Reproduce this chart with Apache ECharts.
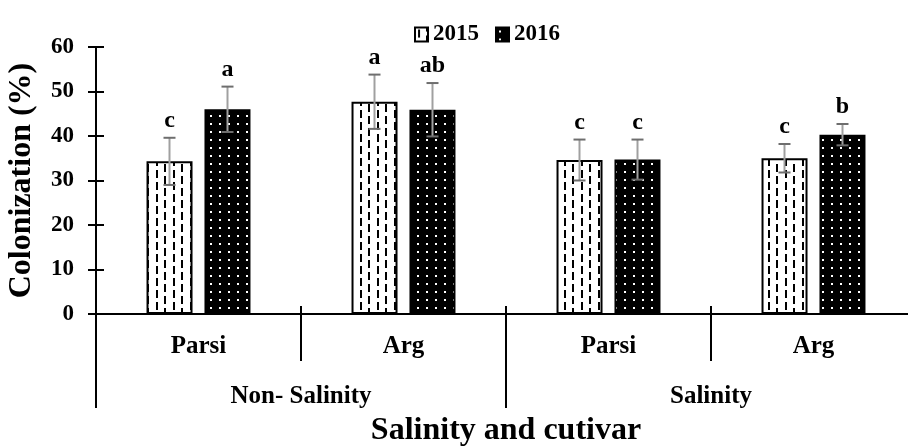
<!DOCTYPE html>
<html>
<head>
<meta charset="utf-8">
<script src="https://cdn.jsdelivr.net/npm/echarts@6/dist/echarts.min.js"></script>
<style>
  html, body { margin: 0; padding: 0; background: #fff; }
  #chart { width: 908px; height: 448px; }
</style>
</head>
<body>
<div id="chart"></div>
<script>
// categories
const cultivars = ['Parsi', 'Arg', 'Parsi', 'Arg'];
const salinity = ['Non- Salinity', 'Salinity'];
const years = ['2015', '2016'];
const yTicks = [0, 10, 20, 30, 40, 50, 60];

// colonization (%) means, error bars and letters
const col2015 = [34.3, 47.7, 34.6, 35.0];
const col2016 = [46.0, 45.9, 34.7, 40.3];
const err2015 = [5.3, 6.1, 4.6, 3.2];
const err2016 = [5.1, 6.0, 4.5, 2.4];
const let2015 = ['c', 'a', 'c', 'c'];
const let2016 = ['a', 'ab', 'c', 'b'];

const FONT = 'Liberation Serif';

// vertical dashes on white
function dashPattern() {
    let c = document.createElement('canvas');
    c.width = 17; c.height = 24;
    let ctx = c.getContext('2d');
    ctx.fillStyle = '#fff';
    ctx.fillRect(0, 0, 17, 24);
    ctx.fillStyle = '#000';
    ctx.fillRect(3, 2, 2, 8);
    ctx.fillRect(3, 14, 2, 8);
    ctx.fillRect(11, 8, 2, 8);
    ctx.fillRect(11, 20, 2, 4);
    ctx.fillRect(11, 0, 2, 4);
    return c;
}

// white dots on black
function dotPattern() {
    let c = document.createElement('canvas');
    c.width = 9; c.height = 8;
    let ctx = c.getContext('2d');
    ctx.fillStyle = '#000';
    ctx.fillRect(0, 0, 9, 8);
    ctx.fillStyle = '#fff';
    ctx.fillRect(3, 3, 2, 2);
    return c;
}

const BAR_W = 46;
const SHIFT = 29; // half bar + half gap

function errSeries(means, errs, letters, side) {
    return {
        type: 'custom',
        xAxisIndex: 0,
        yAxisIndex: 0,
        silent: true,
        z: 5,
        data: means.map((m, i) => [i, m - errs[i], m + errs[i], letters[i]]),
        renderItem(params, api) {
            let lo = api.coord([api.value(0), api.value(1)]);
            let hi = api.coord([api.value(0), api.value(2)]);
            let x = lo[0] + side * SHIFT;
            return {
                type: 'group',
                children: [
                    {type: 'line', shape: {x1: x, y1: hi[1], x2: x, y2: lo[1]},
                        style: {stroke: '#a0a0a0', lineWidth: 2}},
                    {type: 'line', shape: {x1: x - 6, y1: hi[1], x2: x + 6, y2: hi[1]},
                        style: {stroke: '#6e6e6e', lineWidth: 2}},
                    {type: 'line', shape: {x1: x - 6, y1: lo[1], x2: x + 6, y2: lo[1]},
                        style: {stroke: '#6e6e6e', lineWidth: 2}},
                    {type: 'text', x: x, y: hi[1] - 5,
                        style: {text: api.value(3), fill: '#000', align: 'center',
                            verticalAlign: 'bottom', font: 'bold 24px "' + FONT + '"'}}
                ]
            };
        }
    };
}

let myChart = echarts.init(document.getElementById('chart'));
myChart.setOption({
    animation: false,
    textStyle: {fontFamily: FONT, fontWeight: 'bold', color: '#000'},
    legend: {
        data: years,
        left: 409,
        top: 18,
        itemWidth: 13,
        itemHeight: 14,
        itemGap: 16,
        icon: 'rect',
        textStyle: {fontFamily: FONT, fontWeight: 'bold', fontSize: 23, color: '#000'}
    },
    grid: {left: 96, top: 47, bottom: 134, width: 820, containLabel: false, outerBoundsMode: 'none'},
    xAxis: [
        {
            type: 'category',
            data: cultivars,
            position: 'bottom',
            axisLine: {lineStyle: {color: '#000', width: 2}},
            axisTick: {show: true, interval: 0, length: 47, lineStyle: {color: '#000', width: 2}},
            axisLabel: {interval: 0, margin: 20, fontFamily: FONT, fontWeight: 'bold', fontSize: 25, color: '#000'}
        },
        {
            type: 'category',
            data: salinity,
            position: 'bottom',
            axisLine: {show: false},
            axisTick: {show: true, interval: 0, length: 94, lineStyle: {color: '#000', width: 2}},
            axisLabel: {interval: 0, margin: 70, fontFamily: FONT, fontWeight: 'bold', fontSize: 25, color: '#000'},
            name: 'Salinity and cutivar',
            nameLocation: 'middle',
            nameGap: 101,
            nameTextStyle: {fontFamily: FONT, fontWeight: 'bold', fontSize: 32, color: '#000'}
        },
        {
            type: 'category',
            data: cultivars,
            position: 'bottom',
            axisLine: {show: false},
            axisTick: {show: true, inside: true, interval: 0, length: 8, lineStyle: {color: '#000', width: 2}},
            axisLabel: {show: false}
        }
    ],
    yAxis: [
        {
            type: 'value',
            min: yTicks[0],
            max: yTicks[yTicks.length - 1],
            interval: 10,
            axisLine: {show: true, lineStyle: {color: '#000', width: 2}},
            axisTick: {show: true, length: 8, lineStyle: {color: '#000', width: 2}},
            splitLine: {show: false},
            axisLabel: {margin: 22, fontFamily: FONT, fontWeight: 'bold', fontSize: 23, color: '#000'},
            name: 'Colonization (%)',
            nameLocation: 'middle',
            nameGap: 58,
            nameTextStyle: {fontFamily: FONT, fontWeight: 'bold', fontSize: 32, color: '#000'}
        },
        {
            type: 'value',
            min: yTicks[0],
            max: yTicks[yTicks.length - 1],
            interval: 10,
            position: 'left',
            axisLine: {show: false},
            axisTick: {show: true, inside: true, length: 8, lineStyle: {color: '#000', width: 2}},
            splitLine: {show: false},
            axisLabel: {show: false}
        }
    ],
    series: [
        {
            name: years[0],
            type: 'bar',
            barWidth: BAR_W,
            barGap: '26%',
            data: col2015,
            itemStyle: {color: {image: dashPattern(), repeat: 'repeat'}, borderColor: '#000', borderWidth: 2}
        },
        {
            name: years[1],
            type: 'bar',
            barWidth: BAR_W,
            barGap: '26%',
            data: col2016,
            itemStyle: {color: {image: dotPattern(), repeat: 'repeat'}, borderColor: '#000', borderWidth: 2}
        },
        errSeries(col2015, err2015, let2015, -1),
        errSeries(col2016, err2016, let2016, 1)
    ]
});
</script>
</body>
</html>
